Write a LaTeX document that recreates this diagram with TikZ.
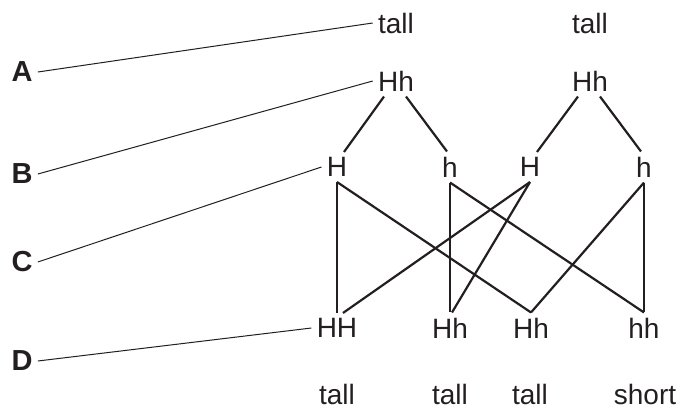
\documentclass[tikz,border=0pt]{standalone}
\usepackage{fontspec}
\setmainfont{Liberation Sans}
\usepackage{tikz}
\usetikzlibrary{positioning}
\definecolor{ink}{HTML}{231F20}

\begin{document}
\begin{tikzpicture}[x=0.5pt, y=-0.5pt, ink,
    every node/.style={font=\fontsize{14}{17}\selectfont, inner sep=2.5pt, text=ink},
    letter/.style={font=\fontsize{14.5}{17}\selectfont\bfseries},
    lead/.style={line width=0.5pt},
    cross/.style={line width=1.1pt}]
    \useasboundingbox (0,0) rectangle (681,408);

    % row labels
    \node[letter] (A) at (22,72)  {A};
    \node[letter] (B) at (22,174) {B};
    \node[letter] (C) at (22,262) {C};
    \node[letter] (D) at (22,361) {D};

    % parents
    \node (tallA) at (396,23) {tall};
    \node (tallB) at (590,23) {tall};
    \node (HhA)   at (396,81) {Hh};
    \node (HhB)   at (590,81) {Hh};

    % gametes
    \node (HA) at (337,167) {H};
    \node (hA) at (450,167) {h};
    \node (HB) at (530,167) {H};
    \node (hB) at (644,167) {h};

    % offspring
    \node (HH)  at (337,328) {HH};
    \node (HhC) at (450,328) {Hh};
    \node (HhD) at (531,328) {Hh};
    \node (hh)  at (644,328) {hh};

    \node (ph1) at (337,394) {tall};
    \node (ph2) at (450,394) {tall};
    \node (ph3) at (530,394) {tall};
    \node (ph4) at (645,394) {short};

    % leader lines
    \draw[lead] (A.east) -- (tallA.west);
    \draw[lead] (B.east) -- (HhA.west);
    \draw[lead] (C.east) -- (HA.west);
    \draw[lead] (D.east) -- (HH.west);

    % parent to gametes
    \foreach \p/\l/\r in {HhA/HA/hA, HhB/HB/hB}{
        \draw[cross] ([xshift=-6pt]\p.south) -- ([xshift=3.5pt]\l.north);
        \draw[cross] ([xshift=5pt]\p.south) -- ([xshift=-1.5pt]\r.north);
    }

    % gametes to offspring
    \draw[cross] (HA.south) -- (HH.north);
    \draw[cross] (HA.south) -- (HhD.north);
    \draw[cross] (hA.south) -- (HhC.north);
    \draw[cross] (hA.south) -- (hh.north);
    \draw[cross] (HB.south) -- ([xshift=3pt]HH.north);
    \draw[cross] (HB.south) -- ([xshift=1pt]HhC.north);
    \draw[cross] (hB.south) -- (HhD.north);
    \draw[cross] (hB.south) -- (hh.north);
\end{tikzpicture}
\end{document}
